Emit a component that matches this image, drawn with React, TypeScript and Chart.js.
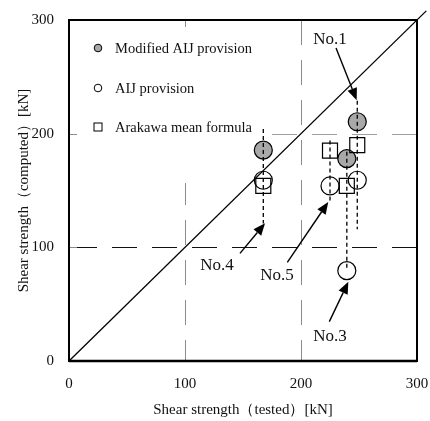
import { useEffect, useRef } from "react";
import { Chart, registerables } from "chart.js";

Chart.register(...registerables);

// ---- data ----
const seriesLabels = ["Modified AIJ provision", "AIJ provision", "Arakawa mean formula"];
const modifiedAIJ = [
  { x: 167.5, y: 185.5 },
  { x: 239.5, y: 178 },
  { x: 248.5, y: 210.5 },
];
const aijProvision = [
  { x: 167.5, y: 159 },
  { x: 225, y: 154 },
  { x: 239.5, y: 79.5 },
  { x: 248.5, y: 159 },
];
const arakawaMean = [
  { x: 167.5, y: 154 },
  { x: 225, y: 185 },
  { x: 239.5, y: 154 },
  { x: 248.5, y: 190 },
];
const xTicks = [0, 100, 200, 300];
const yTicks = [0, 100, 200, 300];
const gridValues = [100, 200];

// specimen annotations (data units)
const specimenNames = ["No.1", "No.3", "No.4", "No.5"];
const specimenX = [248.5, 239.5, 167.5, 225];
const specimenTop = [229, 184, 204, 194];
const specimenBottom = [116, 80, 121, 139.5];
const arrowFrom = [
  { x: 230.2, y: 275.3 },
  { x: 224.4, y: 34.6 },
  { x: 147.4, y: 94.7 },
  { x: 188.2, y: 86.8 },
];
const arrowTo = [
  { x: 248, y: 229.5 },
  { x: 240.8, y: 69.7 },
  { x: 169, y: 121.1 },
  { x: 223.5, y: 139.8 },
];
const labelAt = [
  { x: 225, y: 283.2 },
  { x: 225, y: 21.5 },
  { x: 127.6, y: 84.4 },
  { x: 179.3, y: 75.6 },
];
const diagonalEnd = 308;

const SERIF = "'Liberation Serif', 'Times New Roman', serif";
const GRAY = "#a8a8a8";

const overlay = {
  id: "overlay",
  beforeDatasetsDraw(chart: any) {
    const { ctx, chartArea: a, scales } = chart;
    const x = scales.x;
    const y = scales.y;
    ctx.save();
    // dashed grid lines
    ctx.lineWidth = 1;
    ctx.setLineDash([25, 15]);
    for (const v of gridValues) {
      const px = Math.round(x.getPixelForValue(v)) + 0.5;
      ctx.strokeStyle = "#8c8c8c";
      ctx.beginPath();
      ctx.moveTo(px, a.top);
      ctx.lineTo(px, a.bottom);
      ctx.stroke();
    }
    for (const v of gridValues) {
      const py = Math.round(y.getPixelForValue(v)) + 0.5;
      ctx.strokeStyle = v === 100 ? "#111" : "#a0a0a0";
      ctx.beginPath();
      ctx.moveTo(a.left + 3, py);
      ctx.lineTo(a.right, py);
      ctx.stroke();
    }
    ctx.setLineDash([]);
    // legend background
    ctx.fillStyle = "#fff";
    ctx.fillRect(a.left, a.top, 199, 163);
    // inner ticks
    ctx.strokeStyle = "#8c8c8c";
    for (const v of gridValues) {
      const px = Math.round(x.getPixelForValue(v)) + 0.5;
      ctx.beginPath();
      ctx.moveTo(px, a.top);
      ctx.lineTo(px, a.top + 7);
      ctx.stroke();
      const py = Math.round(y.getPixelForValue(v)) + 0.5;
      ctx.beginPath();
      ctx.moveTo(a.left, py);
      ctx.lineTo(a.left + 8, py);
      ctx.stroke();
    }
    // legend
    const rows = [28, 68, 107];
    ctx.font = `14.5px ${SERIF}`;
    ctx.textBaseline = "middle";
    ctx.textAlign = "left";
    seriesLabels.forEach((lab, i) => {
      const my = a.top + rows[i];
      const mx = a.left + 29;
      ctx.lineWidth = 1;
      ctx.strokeStyle = "#000";
      if (i === 2) {
        ctx.fillStyle = "#fff";
        ctx.fillRect(mx - 4, my - 4, 8, 8);
        ctx.strokeRect(mx - 4, my - 4, 8, 8);
      } else {
        ctx.beginPath();
        ctx.arc(mx, my, 3.8, 0, Math.PI * 2);
        ctx.fillStyle = i === 0 ? GRAY : "#fff";
        ctx.fill();
        ctx.stroke();
      }
      ctx.fillStyle = "#111";
      ctx.fillText(lab, a.left + 46, my + 1);
    });
    // diagonal y = x
    ctx.strokeStyle = "#000";
    ctx.lineWidth = 1.3;
    ctx.beginPath();
    ctx.moveTo(x.getPixelForValue(0), y.getPixelForValue(0));
    ctx.lineTo(x.getPixelForValue(diagonalEnd), y.getPixelForValue(diagonalEnd));
    ctx.stroke();
    ctx.restore();
  },
  afterDatasetsDraw(chart: any) {
    const { ctx, chartArea: a, scales } = chart;
    const x = scales.x;
    const y = scales.y;
    ctx.save();
    // specimen dashed lines
    ctx.strokeStyle = "#000";
    ctx.lineWidth = 1.3;
    ctx.setLineDash([4, 3]);
    specimenX.forEach((sx, i) => {
      const px = x.getPixelForValue(sx);
      ctx.beginPath();
      ctx.moveTo(px, y.getPixelForValue(specimenTop[i]));
      ctx.lineTo(px, y.getPixelForValue(specimenBottom[i]));
      ctx.stroke();
    });
    ctx.setLineDash([]);
    // arrows
    specimenNames.forEach((name, i) => {
      const x0 = x.getPixelForValue(arrowFrom[i].x);
      const y0 = y.getPixelForValue(arrowFrom[i].y);
      const x1 = x.getPixelForValue(arrowTo[i].x);
      const y1 = y.getPixelForValue(arrowTo[i].y);
      const ang = Math.atan2(y1 - y0, x1 - x0);
      const hl = 12;
      const hw = 5;
      const bx = x1 - hl * Math.cos(ang);
      const by = y1 - hl * Math.sin(ang);
      ctx.lineWidth = 1.4;
      ctx.beginPath();
      ctx.moveTo(x0, y0);
      ctx.lineTo(bx, by);
      ctx.stroke();
      ctx.fillStyle = "#000";
      ctx.beginPath();
      ctx.moveTo(x1, y1);
      ctx.lineTo(bx + hw * Math.sin(ang), by - hw * Math.cos(ang));
      ctx.lineTo(bx - hw * Math.sin(ang), by + hw * Math.cos(ang));
      ctx.closePath();
      ctx.fill();
      ctx.font = `17px ${SERIF}`;
      ctx.textAlign = "center";
      ctx.textBaseline = "middle";
      ctx.fillStyle = "#111";
      ctx.fillText(name, x.getPixelForValue(labelAt[i].x), y.getPixelForValue(labelAt[i].y));
    });
    // frame
    ctx.strokeStyle = "#000";
    ctx.lineWidth = 2;
    ctx.strokeRect(a.left, a.top, a.right - a.left, a.bottom - a.top);
    ctx.lineWidth = 2.5;
    ctx.beginPath();
    ctx.moveTo(a.left, a.bottom);
    ctx.lineTo(a.right, a.bottom);
    ctx.stroke();
    ctx.restore();
  },
};

export default function App() {
  const ref = useRef<HTMLCanvasElement | null>(null);
  useEffect(() => {
    if (!ref.current) return;
    const tickFont = { family: SERIF, size: 15 };
    const chart = new Chart(ref.current, {
      type: "scatter",
      data: {
        datasets: [
          {
            label: seriesLabels[2],
            data: arakawaMean,
            pointStyle: "rect",
            pointRadius: 10.6,
            pointBackgroundColor: "rgba(255,255,255,0)",
            pointBorderColor: "#000",
            pointBorderWidth: 1.2,
          },
          {
            label: seriesLabels[1],
            data: aijProvision,
            pointStyle: "circle",
            pointRadius: 9,
            pointBackgroundColor: "rgba(255,255,255,0)",
            pointBorderColor: "#000",
            pointBorderWidth: 1.2,
          },
          {
            label: seriesLabels[0],
            data: modifiedAIJ,
            pointStyle: "circle",
            pointRadius: 9,
            pointBackgroundColor: GRAY,
            pointBorderColor: "#000",
            pointBorderWidth: 1.2,
          },
        ],
      },
      options: {
        animation: false,
        responsive: true,
        maintainAspectRatio: false,
        layout: { padding: { top: 20, right: 13, left: 0, bottom: 0 } },
        plugins: {
          legend: { display: false },
          tooltip: { enabled: false },
        },
        scales: {
          x: {
            type: "linear",
            min: 0,
            max: 300,
            afterBuildTicks: (s: any) => {
              s.ticks = xTicks.map((v) => ({ value: v }));
            },
            afterFit: (s: any) => {
              s.height = 60;
              s.paddingLeft = 0;
              s.paddingRight = 0;
            },
            grid: { display: false, drawTicks: false },
            border: { display: false },
            ticks: { padding: 14, font: tickFont, color: "#111", maxRotation: 0 },
            title: {
              display: true,
              text: "Shear strength（tested）[kN]",
              font: { family: SERIF, size: 15 },
              color: "#111",
              padding: { top: 0, bottom: 2 },
            },
          },
          y: {
            type: "linear",
            min: 0,
            max: 300,
            afterBuildTicks: (s: any) => {
              s.ticks = yTicks.map((v) => ({ value: v }));
            },
            afterFit: (s: any) => {
              s.width = 69;
              s.paddingTop = 0;
              s.paddingBottom = 0;
            },
            grid: { display: false, drawTicks: false },
            border: { display: false },
            ticks: { padding: 15, font: tickFont, color: "#111" },
            title: {
              display: true,
              text: "Shear strength（computed）[kN]",
              font: { family: SERIF, size: 15 },
              color: "#111",
              padding: { top: 15, bottom: 0 },
            },
          },
        },
      },
      plugins: [overlay],
    } as any);
    return () => chart.destroy();
  }, []);
  return (
    <div style={{ position: "fixed", left: 0, top: 0, width: 430, height: 421, background: "#fff" }}>
      <canvas ref={ref} />
    </div>
  );
}
